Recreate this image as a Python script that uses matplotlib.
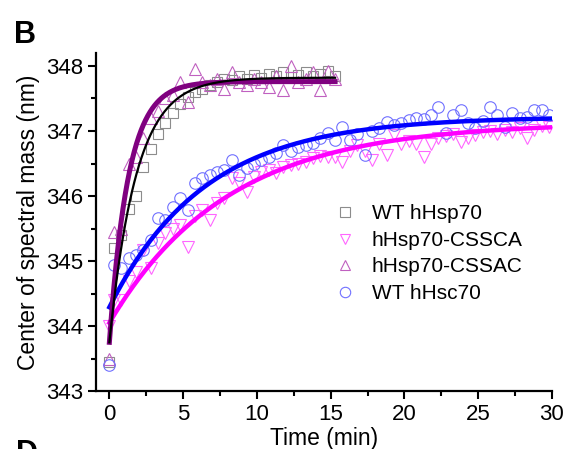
import numpy as np
import matplotlib
matplotlib.use("Agg")
import matplotlib.pyplot as plt
from matplotlib.lines import Line2D

plt.rcParams['font.family'] = ['Liberation Sans', 'DejaVu Sans']

# measured points (time in min, centre of spectral mass in nm)
hsp70_wt = [343.45, 345.2, 345.4, 345.8, 346.0, 346.45, 346.72, 346.95, 347.12, 347.28,
            347.42, 347.52, 347.6, 347.65, 347.7, 347.75, 347.8, 347.78, 347.85, 347.8,
            347.86, 347.82, 347.88, 347.85, 347.9, 347.83, 347.86, 347.9, 347.85, 347.88,
            347.92, 347.85]
hsp70_cssac = [343.5, 345.45, 345.5, 346.5, 346.6, 346.9, 347.2, 347.3, 347.5, 347.55,
               347.75, 347.45, 347.95, 347.75, 347.7, 347.8, 347.65, 347.9, 347.75, 347.7,
               347.8, 347.75, 347.68, 347.85, 347.63, 348.0, 347.75, 347.8, 347.9, 347.63,
               347.92, 347.8]
hsc70_wt = [343.4, 344.94, 344.9, 345.05, 345.1, 345.17, 345.33, 345.66, 345.63, 345.83,
            345.97, 345.78, 346.2, 346.28, 346.32, 346.37, 346.4, 346.55, 346.32, 346.43,
            346.5, 346.55, 346.6, 346.66, 346.78, 346.7, 346.75, 346.78, 346.82, 346.9,
            346.97, 346.86, 347.06, 346.86, 346.95, 346.63, 347.0, 347.05, 347.14, 347.1,
            347.13, 347.17, 347.2, 347.18, 347.25, 347.37, 346.97, 347.25, 347.32, 347.12,
            347.05, 347.15, 347.37, 347.25, 347.06, 347.28, 347.2, 347.22, 347.32, 347.32,
            347.25]
hsp70_cssca = [344.0, 344.4, 344.4, 344.7, 344.83, 345.17, 344.9, 345.28, 345.43, 345.5,
               345.55, 345.22, 345.7, 345.78, 345.63, 345.9, 345.97, 346.28, 346.2, 346.06,
               346.3, 346.37, 346.4, 346.35, 346.45, 346.48, 346.5, 346.52, 346.58, 346.62,
               346.6, 346.6, 346.52, 346.7, 346.78, 346.7, 346.55, 346.8, 346.63, 346.94,
               346.8, 346.85, 346.8, 346.6, 346.8, 346.9, 346.92, 346.95, 346.83, 346.9,
               346.94, 346.98, 347.0, 346.95, 347.02, 346.98, 347.05, 346.9, 347.02, 347.08,
               347.06]

def times(n):
    # first reading at 0, then every 0.5 min after a 0.3 min dead time
    return np.r_[0.0, 0.3 + 0.5 * np.arange(n - 1)]

# single-exponential fits: start, plateau, rate (1/min), end time
fit_hsp70_wt = [343.75, 347.82, 0.55, 15.3]
fit_hsp70_cssac = [343.75, 347.76, 0.78, 15.3]
fit_hsc70_wt = [344.29, 347.22, 0.155, 30.0]
fit_hsp70_cssca = [344.05, 347.13, 0.125, 30.0]

def fit_curve(p):
    t = np.linspace(0, p[3], 300)
    return t, p[1] - (p[1] - p[0]) * np.exp(-p[2] * t)

fig = plt.figure(figsize=(5.72, 4.49), dpi=100)
ax = fig.add_axes([0.168, 0.129, 0.797, 0.753])

ms = 8.3
ax.plot(times(len(hsp70_wt)), hsp70_wt, 's', mfc='none', mec='#8c8c8c', mew=0.8, ms=ms * 0.85)
ax.plot(times(len(hsp70_cssca)), hsp70_cssca, 'v', mfc='none', mec='#ff66ff', mew=0.8, ms=ms)
ax.plot(times(len(hsp70_cssac)), hsp70_cssac, '^', mfc='none', mec='#c060c0', mew=0.8, ms=ms)
ax.plot(times(len(hsc70_wt)), hsc70_wt, 'o', mfc='none', mec='#7070ff', mew=0.8, ms=ms)

ax.plot(*fit_curve(fit_hsp70_cssca), color='#ff00ff', lw=3.2)
ax.plot(*fit_curve(fit_hsc70_wt), color='#0000ff', lw=3.2)
ax.plot(*fit_curve(fit_hsp70_cssac), color='#800080', lw=3.6)
ax.plot(*fit_curve(fit_hsp70_wt), color='black', lw=1.6)

ax.set_xlim(-0.9, 30)
ax.set_ylim(343, 348.2)
ax.set_xticks([0, 5, 10, 15, 20, 25, 30])
ax.set_xticks(np.arange(2.5, 30, 5), minor=True)
ax.set_yticks([343, 344, 345, 346, 347, 348])
ax.set_yticks(np.arange(343.5, 348.1, 1), minor=True)
for s in ['top', 'right']:
    ax.spines[s].set_visible(False)
for s in ['left', 'bottom']:
    ax.spines[s].set_linewidth(1.6)
ax.tick_params(which='major', direction='out', length=6, width=1.5, labelsize=16)
ax.tick_params(which='minor', direction='out', length=3.5, width=1.5)
ax.set_xlabel('Time (min)', fontsize=16.5, labelpad=1)
ax.set_ylabel('Center of spectral mass (nm)', fontsize=16.5, labelpad=4)

handles = [
    Line2D([], [], ls='none', marker='s', mfc='none', mec='#8c8c8c', mew=0.8, ms=6.5),
    Line2D([], [], ls='none', marker='v', mfc='none', mec='#ff66ff', mew=0.8, ms=7.5),
    Line2D([], [], ls='none', marker='^', mfc='none', mec='#c060c0', mew=0.8, ms=7.5),
    Line2D([], [], ls='none', marker='o', mfc='none', mec='#7070ff', mew=0.8, ms=7.5),
]
labels = ['WT hHsp70', 'hHsp70-CSSCA', 'hHsp70-CSSAC', 'WT hHsc70']
ax.legend(handles, labels, loc='upper left', bbox_to_anchor=(0.5, 0.577), frameon=False,
          fontsize=15, handlelength=1.2, handletextpad=0.7, labelspacing=0.36, borderaxespad=0)

fig.text(0.025, 0.955, 'B', fontsize=22, fontweight='bold', va='top')
fig.text(0.028, 0.022, 'D', fontsize=22, fontweight='bold', va='top')

fig.savefig('out.png', dpi=100)
